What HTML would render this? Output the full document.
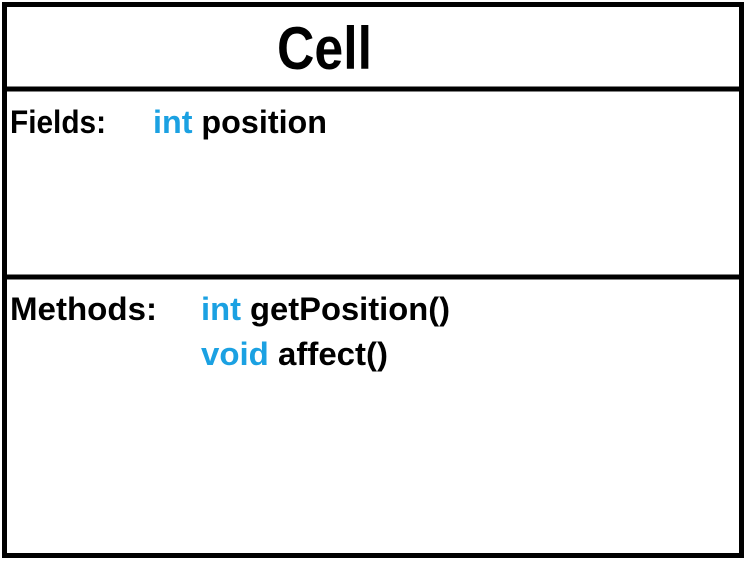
<!DOCTYPE html>
<html><head><meta charset="utf-8"><style>
html,body{margin:0;padding:0;background:#fff;width:748px;height:562px;overflow:hidden}
text{font-family:"Liberation Sans",sans-serif;font-weight:bold}
</style></head><body>
<svg width="748" height="562" viewBox="0 0 748 562" xmlns="http://www.w3.org/2000/svg">
<rect x="4.5" y="4.5" width="737" height="551" fill="#fff" stroke="#000" stroke-width="5"/>
<line x1="2" y1="89" x2="744" y2="89" stroke="#000" stroke-width="5"/>
<line x1="2" y1="277" x2="744" y2="277" stroke="#000" stroke-width="5"/>
<text x="277" y="69" font-size="60" textLength="95" lengthAdjust="spacingAndGlyphs">Cell</text>
<text x="10" y="133" font-size="32" textLength="96" lengthAdjust="spacingAndGlyphs">Fields:</text>
<text x="153" y="133" font-size="32" textLength="174" lengthAdjust="spacingAndGlyphs"><tspan fill="#1ba1e2">int</tspan> position</text>
<text x="10" y="320" font-size="32" textLength="147" lengthAdjust="spacingAndGlyphs">Methods:</text>
<text x="201" y="320" font-size="32" textLength="249" lengthAdjust="spacingAndGlyphs"><tspan fill="#1ba1e2">int</tspan> getPosition()</text>
<text x="201" y="365" font-size="32" textLength="187" lengthAdjust="spacingAndGlyphs"><tspan fill="#1ba1e2">void</tspan> affect()</text>
</svg>
</body></html>
